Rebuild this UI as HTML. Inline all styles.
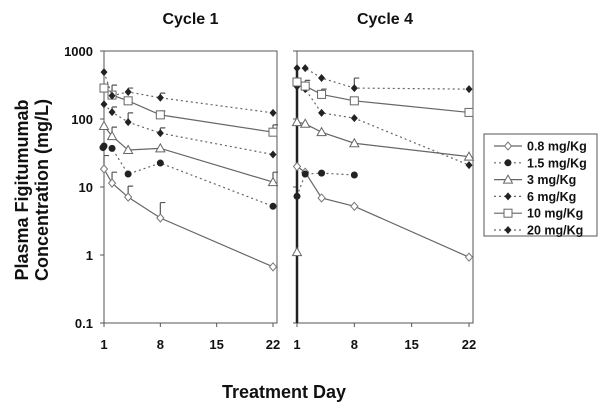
<!DOCTYPE html>
<html><head><meta charset="utf-8"><style>
body{margin:0;background:#fff}
svg text{font-family:"Liberation Sans",Arial,sans-serif;font-weight:bold;fill:#111}
</style></head><body>
<svg id="chart" width="600" height="410" xmlns="http://www.w3.org/2000/svg"></svg>
<script>
const days = [1, 2, 4, 8, 22];
const doses = ["0.8 mg/Kg","1.5 mg/Kg","3 mg/Kg","6 mg/Kg","10 mg/Kg","20 mg/Kg"];
const cycle1_08 = [18.4, 11.4, 7.1, 3.5, 0.67];
const cycle1_15 = [40, 37, 15.5, 22.5, 5.2];
const cycle1_3 = [79, 56, 35, 37, 11.8];
const cycle1_6 = [165, 126, 90, 62, 30];
const cycle1_10 = [285, 225, 185, 115, 64];
const cycle1_20 = [490, 220, 250, 205, 123];
const cycle1_08_err = [29, 16.5, 10.3, 5.9, null];
const cycle1_15_err = [null, null, null, null, null];
const cycle1_3_err = [null, 76, null, null, 16.5];
const cycle1_6_err = [null, 150, 123, 74, null];
const cycle1_10_err = [null, 315, null, 131, 82];
const cycle1_20_err = [null, null, 285, 240, null];
const cycle4_08 = [20, 16.5, 6.9, 5.2, 0.93];
const cycle4_15 = [7.3, 15.5, 16, 15, null];
const cycle4_3 = [90, 85, 64, 44, 28];
const cycle4_6 = [300, 275, 123, 103, 21];
const cycle4_10 = [350, 305, 230, 185, 125];
const cycle4_20 = [560, 560, 400, 285, 275];
const cycle4_08_err = [null, null, null, null, null];
const cycle4_15_err = [null, null, null, null, null];
const cycle4_3_err = [null, null, null, null, null];
const cycle4_6_err = [null, null, null, null, null];
const cycle4_10_err = [null, 370, 275, null, null];
const cycle4_20_err = [null, null, null, 400, null];
const cycle4_extraTriangle = [1.1];
const cycle1_extraCircle = [38];
const yTicks = [1000, 100, 10, 1, 0.1];
const yTickLabels = ["1000","100","10","1","0.1"];
const xTicks = [1, 8, 15, 22];

const svgNS="http://www.w3.org/2000/svg";
const svg=document.getElementById('chart');
function mk(tag,attrs,parent){const e=document.createElementNS(svgNS,tag);for(const k in attrs)e.setAttribute(k,attrs[k]);(parent||svg).appendChild(e);return e;}
const yTop=51, yBot=323;
function yScale(v){return yBot-(Math.log10(v)+1)*(yBot-yTop)/4;}
const panels=[{x0:104,x1:277,title:"Cycle 1",series:[cycle1_08,cycle1_15,cycle1_3,cycle1_6,cycle1_10,cycle1_20],err:[cycle1_08_err,cycle1_15_err,cycle1_3_err,cycle1_6_err,cycle1_10_err,cycle1_20_err]},
              {x0:297,x1:473,title:"Cycle 4",series:[cycle4_08,cycle4_15,cycle4_3,cycle4_6,cycle4_10,cycle4_20],err:[cycle4_08_err,cycle4_15_err,cycle4_3_err,cycle4_6_err,cycle4_10_err,cycle4_20_err]}];
const styles=[{dash:"",m:"diamondOpen"},{dash:"2,3",m:"circle"},{dash:"",m:"triangle"},{dash:"2,3",m:"diamond"},{dash:"",m:"square"},{dash:"2,3",m:"diamond"}];
function marker(type,x,y,g){
  let e;
  if(type==="diamondOpen") e=mk('polygon',{points:`${x},${y-4} ${x+3.5},${y} ${x},${y+4} ${x-3.5},${y}`,fill:"#fff",stroke:"#777","stroke-width":1},g);
  else if(type==="circle") e=mk('circle',{cx:x,cy:y,r:3.5,fill:"#222"},g);
  else if(type==="triangle") e=mk('polygon',{points:`${x},${y-4.5} ${x+4.5},${y+3.5} ${x-4.5},${y+3.5}`,fill:"#fff",stroke:"#666","stroke-width":1},g);
  else if(type==="diamond") e=mk('polygon',{points:`${x},${y-4} ${x+3.5},${y} ${x},${y+4} ${x-3.5},${y}`,fill:"#222"},g);
  else e=mk('rect',{x:x-4,y:y-4,width:8,height:8,fill:"#fff",stroke:"#666","stroke-width":1},g);
  return e;
}
panels.forEach((p,pi)=>{
  const xScale=d=>p.x0+(d-1)*(p.x1-4-p.x0)/21;
  const g=mk('g',{});
  
  
  const t=mk('text',{x:(p.x0+p.x1)/2,y:24,"text-anchor":"middle","font-size":16},g);t.textContent=p.title;
  
  
  const box=mk('rect',{x:p.x0,y:yTop,width:p.x1-p.x0,height:yBot-yTop,fill:"none",stroke:"#555","stroke-width":1},g);
  
  
  yTicks.forEach((v,i)=>{
    mk('line',{x1:p.x0-4,x2:p.x0,y1:yScale(v),y2:yScale(v),stroke:"#555"},g);
    if(pi===0){const l=mk('text',{x:93,y:yScale(v)+5,"text-anchor":"end","font-size":13},g);l.textContent=yTickLabels[i];
      
      }
  });
  xTicks.forEach(d=>{
    mk('line',{x1:xScale(d),x2:xScale(d),y1:yBot,y2:yBot+4,stroke:"#555"},g);
    const l=mk('text',{x:xScale(d),y:349,"text-anchor":"middle","font-size":13},g);l.textContent=d;
    
    
  });
  if(pi===1) mk('line',{x1:p.x0,x2:p.x0,y1:67,y2:yBot,stroke:"#222","stroke-width":2.5},g);
  p.series.forEach((s,si)=>{
    const pts=[];days.forEach((d,i)=>{if(s[i]!=null)pts.push([xScale(d),yScale(s[i])]);});
    const line=mk('polyline',{points:pts.map(q=>q.join(',')).join(' '),fill:"none",stroke:"#666","stroke-width":1.2,"stroke-dasharray":styles[si].dash},g);
    
    
    days.forEach((d,i)=>{
      const e=p.err[si][i];
      if(e!=null&&s[i]!=null){
        const x=xScale(d);
        const eb=mk('path',{d:`M${x},${yScale(s[i])}V${yScale(e)}M${x},${yScale(e)}H${x+5}`,stroke:"#555","stroke-width":1.2,fill:"none"},g);
        
        
      }
    });
    pts.forEach(q=>{const m=marker(styles[si].m,q[0],q[1],g);
      
      });
  });
  if(pi===1){cycle4_extraTriangle.forEach(v=>{const m=marker('triangle',xScale(1),yScale(v),g);
    
    });}
  if(pi===0){cycle1_extraCircle.forEach(v=>{const m=marker('circle',xScale(1)-1,yScale(v),g);
    
    });}
});
const yt=mk('text',{transform:"translate(28,190) rotate(-90)","text-anchor":"middle","font-size":18});yt.textContent="Plasma Figitumumab";


const yt2=mk('text',{transform:"translate(48,190) rotate(-90)","text-anchor":"middle","font-size":18});yt2.textContent="Concentration (mg/L)";


const xt=mk('text',{x:284,y:398,"text-anchor":"middle","font-size":18});xt.textContent="Treatment Day";


const lg=mk('g',{});


mk('rect',{x:484,y:134,width:113,height:102,fill:"#fff",stroke:"#555"},lg);
doses.forEach((d,i)=>{
  const y=146+i*16.8;
  const e=mk('g',{},lg);
  
  
  mk('line',{x1:494,x2:522,y1:y,y2:y,stroke:"#666","stroke-width":1.2,"stroke-dasharray":styles[i].dash},e);
  marker(styles[i].m,508,y,e);
  const t=mk('text',{x:527,y:y+4.5,"font-size":12.5},e);t.textContent=d;
});
</script>
</body></html>
